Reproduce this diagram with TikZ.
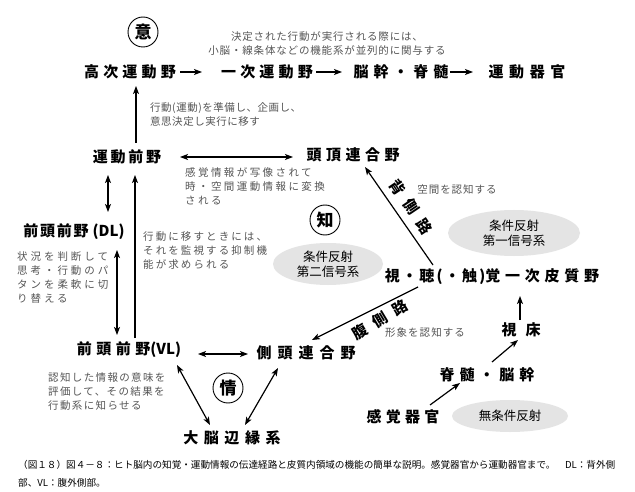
\documentclass[tikz,border=0pt]{standalone}
\usepackage{fontspec}
\newfontfamily\jp{Noto Sans CJK JP}
\usetikzlibrary{arrows.meta,shapes.geometric,calc}
\definecolor{notec}{HTML}{555555}
\definecolor{ellc}{HTML}{E4E4E4}
\begin{document}
\begin{tikzpicture}[x=1pt,y=-1pt,
  lab/.style={font={\jp\bfseries\fontsize{15}{17}\selectfont\addfontfeature{LetterSpace=#1}},inner sep=0pt},
  lab/.default=28,
  note/.style={font={\jp\fontsize{10.5}{14}\selectfont\addfontfeature{LetterSpace=#1}},text=notec,inner sep=0pt,align=left},
  note/.default=0,
  kanji/.style={circle,draw,line width=0.9pt,minimum size=30pt,inner sep=0pt,font={\jp\bfseries\fontsize{17}{17}\selectfont}},
  ell/.style={ellipse,fill=ellc,inner sep=0pt,align=center,font={\jp\fontsize{12.5}{15}\selectfont}},
  arr/.style={-{Stealth[length=8pt,width=6pt,inset=2pt]},line width=1.2pt},
  dbl/.style={{Stealth[length=8pt,width=6pt,inset=2pt]}-{Stealth[length=8pt,width=6pt,inset=2pt]},line width=1.2pt}
]
\fill[white] (0,0) rectangle (635,492);
\useasboundingbox (0,0) rectangle (635,492);

% circles
\node[kanji] (i) at (143,32) {意};
\node[kanji] (chi) at (325,220) {知};
\node[kanji] (jo) at (228,388) {情};

% top row
\node[lab=28] (kouji) at (130,72) {高次運動野};
\node[lab=28] (ichiji) at (267,72) {一次運動野};
\node[lab=33] (noukan) at (401,72) {脳幹・脊髄};
\node[lab=37] (kikan) at (527,72) {運動器官};

% middle
\node[lab=18] (unzen) at (127,157) {運動前野};
\node[lab=30] (touchou) at (353,155) {頭頂連合野};
\node[lab=12] (dl) at (74,232) {前頭前野\addfontfeature{LetterSpace=0}\hspace{4pt}(DL)};
\node[lab=30] (vl) at (129,350) {前頭前野\addfontfeature{LetterSpace=0}(VL)};
\node[lab=15] (shichou) at (492,277) {視・聴(・触)\addfontfeature{LetterSpace=32}覚一次皮質野};
\node[lab=40] (sokutou) at (306,353) {側頭連合野};
\node[lab=37] (daino) at (232,438) {大脳辺縁系};
\node[lab=0] (shishou) at (521,330) {視\hspace{9pt}床};
\node[lab=33] (sekizui) at (487,375) {脊髄・脳幹};
\node[lab=28] (kankaku) at (403,417) {感覚器官};

% pathway labels
\node[lab=60,rotate=-56] (haisoku) at (411,207) {背側路};
\node[lab=55,rotate=31] (fukusoku) at (380,320) {腹側路};

% ellipses
\node[ell,minimum width=110pt,minimum height=42pt] (j2) at (328,264) {条件反射\\第二信号系};
\node[ell,minimum width=132pt,minimum height=46pt] (j1) at (514,233) {条件反射\\第一信号系};
\node[ell,minimum width=116pt,minimum height=32pt] (mu) at (510,416) {無条件反射};

% notes
\node[note=8,align=center] (n1) at (327,43) {決定された行動が実行される際には、\\小脳・線条体などの機能系が並列的に関与する};
\node[note=5,anchor=west] (n2) at (150,115) {行動(運動)を準備し、企画し、\\意思決定し実行に移す};
\node[note=23,anchor=west] (n3) at (185,186) {感覚情報が写像されて\\時・空間運動情報に変換\\される};
\node[note=20,anchor=west] (n4) at (143,251) {行動に移すときには、\\それを監視する抑制機\\能が求められる};
\node[note=28,anchor=west] (n5) at (17,278) {状況を判断して\\思考・行動のパ\\タンを柔軟に切\\り替える};
\node[note=13,anchor=west] (n6) at (48,392) {認知した情報の意味を\\評価して、その結果を\\行動系に知らせる};
\node[note=9] (n7) at (457,190) {空間を認知する};
\node[note=10] (n8) at (425,333) {形象を認知する};

% caption
\node[anchor=west,align=left,inner sep=0pt,font={\jp\fontsize{9.6}{18}\selectfont}] (cap) at (18,474)
 {（図１８）図４－８：ヒト脳内の知覚・運動情報の伝達経路と皮質内領域の機能の簡単な説明。感覚器官から運動器官まで。　DL：背外側\\部、VL：腹外側部。};

% arrows top row
\draw[arr] ($(kouji)+(50,0)$) -- ($(ichiji)+(-65,0)$);
\draw[arr] ($(ichiji)+(49,0)$) -- ($(noukan)+(-59,0)$);
\draw[arr] ($(noukan)+(49,0)$) -- ($(kikan)+(-54,0)$);
% vertical
\draw[arr] ($(unzen)+(9,-14)$) -- ($(kouji)+(6,14)$);
\draw[dbl] ($(unzen)+(53,0)$) -- ($(touchou)+(-60,2)$);
\draw[dbl] ($(unzen)+(-19,18)$) -- ($(dl)+(34,-20)$);
\draw[dbl] ($(dl)+(43,18)$) -- ($(vl)+(-12,-15)$);
\draw[arr] ($(vl)+(6,-12)$) -- ($(unzen)+(8,18)$);
\draw[dbl] ($(vl)+(69,4)$) -- ($(sokutou)+(-58,1)$);
\draw[arr] ($(shichou)+(-59,-12)$) -- ($(touchou)+(12,12)$);
\draw[arr] ($(shichou)+(-74,10)$) -- ($(sokutou)+(6,-13)$);
\draw[dbl] ($(vl)+(48,15)$) -- ($(daino)+(-22,-13)$);
\draw[dbl] ($(sokutou)+(-28,15)$) -- ($(daino)+(13,-13)$);
\draw[arr] ($(shishou)+(-1,-10)$) -- ($(shichou)+(28,19)$);
\draw[arr] ($(sekizui)+(5,-13)$) -- ($(shishou)+(-3,10)$);
\draw[arr] ($(kankaku)+(27,-12)$) -- ($(sekizui)+(-27,8)$);
\end{tikzpicture}
\end{document}
